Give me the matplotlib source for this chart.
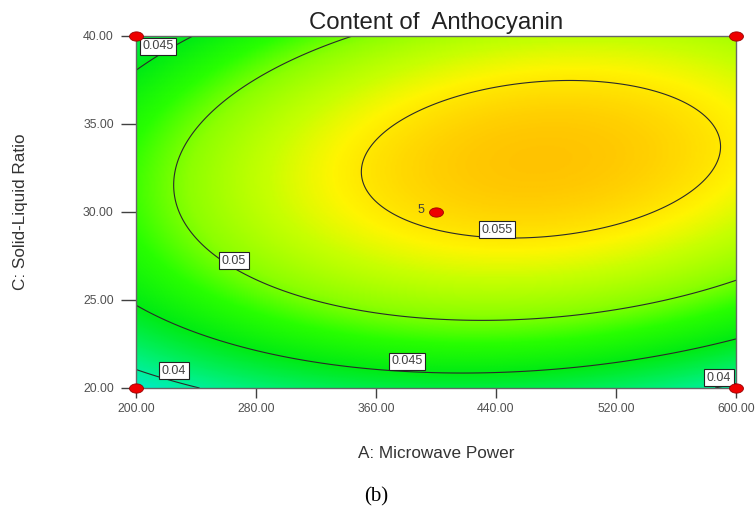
import matplotlib
matplotlib.use("Agg")
import matplotlib.pyplot as plt
from matplotlib.colors import LinearSegmentedColormap
import numpy as np

plt.rcParams['font.family'] = ['Liberation Sans', 'DejaVu Sans']

# fitted quadratic model (coded units A=(power-400)/200, C=(ratio-30)/10)
b0 = 0.0555
bA = 0.00257
bC = 0.00415
bAC = 0.00193
bAA = -0.0045
bCC = -0.00805

levels = [0.04, 0.045, 0.05, 0.055]
xticks = [200, 280, 360, 440, 520, 600]
yticks = [20, 25, 30, 35, 40]

# design points shown on the plot
pts_x = [200, 600, 200, 600, 400]
pts_y = [40, 40, 20, 20, 30]

# contour label values and where they sit
lab_vals = [0.045, 0.05, 0.055, 0.045, 0.04, 0.04]
lab_x = [214.7, 265.3, 440.7, 380.7, 225.3, 588.7]
lab_y = [39.43, 27.22, 28.98, 21.53, 20.97, 20.57]

# colour stops (value, rgb)
stops_v = [0.0375, 0.041, 0.045, 0.048, 0.0505, 0.053, 0.0545, 0.0566]
stops_c = ['#00ebdc', '#00f082', '#00eb14', '#28ff00', '#8cff00',
           '#c8ff00', '#fff500', '#ffc300']

x = np.linspace(200, 600, 401)
y = np.linspace(20, 40, 301)
X, Y = np.meshgrid(x, y)
A = (X - 400) / 200.0
C = (Y - 30) / 10.0
Z = b0 + bA*A + bC*C + bAC*A*C + bAA*A**2 + bCC*C**2

vmin, vmax = stops_v[0], stops_v[-1]
cmap = LinearSegmentedColormap.from_list(
    'de', [((v - vmin)/(vmax - vmin), c) for v, c in zip(stops_v, stops_c)])

fig = plt.figure(figsize=(7.55, 5.14), dpi=100)
ax = fig.add_axes([136/755, 126/514, 600/755, 352/514])

ax.pcolormesh(X, Y, Z, cmap=cmap, vmin=vmin, vmax=vmax, shading='gouraud', zorder=0)
ax.contour(X, Y, Z, levels=levels, colors='#2a2a2a', linewidths=0.8, zorder=1)

for v, lx, ly in zip(lab_vals, lab_x, lab_y):
    ax.text(lx, ly, f'{v:g}', fontsize=9, color='#404040', ha='center', va='center',
            zorder=3, clip_on=False,
            bbox=dict(boxstyle='square,pad=0.2', fc='white', ec='#222222', lw=0.8))

t = np.linspace(0, 2*np.pi, 40)
ell = list(zip(1.5*np.cos(t), np.sin(t)))
ax.plot(pts_x, pts_y, linestyle='none', marker=ell, ms=10, mfc='#ee0000',
        mec='#990000', mew=0.6, clip_on=False, zorder=4)
ax.text(pts_x[4] - 8, pts_y[4] + 0.1, '5', fontsize=9, color='#404040',
        ha='right', va='center', zorder=4)

ax.set_xlim(200, 600)
ax.set_ylim(20, 40)
ax.set_xticks(xticks)
ax.set_yticks(yticks)
ax.set_xticklabels([f'{v:.2f}' for v in xticks])
ax.set_yticklabels([f'{v:.2f}' for v in yticks])
ax.tick_params(axis='x', direction='out', length=7, width=1, color='#404040',
               labelsize=8.8, labelcolor='#505050', pad=3.5)
ax.tick_params(axis='y', direction='out', length=11, width=1, color='#404040',
               labelsize=8.8, labelcolor='#505050', pad=5)
for s in ax.spines.values():
    s.set_color('#666666')
    s.set_linewidth(1.0)

ax.set_title('Content of  Anthocyanin', fontsize=17.3, color='#222222', pad=5)
ax.set_xlabel('A: Microwave Power', fontsize=12.3, color='#333333')
ax.xaxis.set_label_coords(0.5, -0.165)
ax.set_ylabel('C: Solid-Liquid Ratio', fontsize=12.3, color='#333333')
ax.yaxis.set_label_coords(-0.18, 0.5)

fig.text(376/755, 1 - 497/514, '(b)', fontsize=15, family='Liberation Serif',
         ha='center', va='center')

fig.savefig('out.png', dpi=100)
